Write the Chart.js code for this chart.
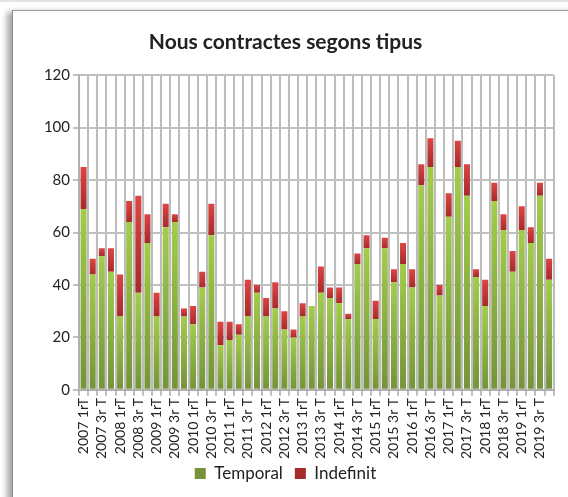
<!DOCTYPE html>
<html>
<head>
<meta charset="utf-8">
<script src="https://cdn.jsdelivr.net/npm/chart.js@4/dist/chart.umd.min.js"></script>
<style>
  body { margin: 0; background: #fff; width: 568px; height: 497px; overflow: hidden; position: relative; }
  #topline { position: absolute; left: 0; top: 0; width: 568px; height: 2px; background: #e4e4e4; }
  #frame { position: absolute; left: 12px; top: 10px; width: 600px; height: 520px;
           border-left: 1px solid #8a8a8a; border-top: 1px solid #9a9a9a;
           box-shadow: -5px 2px 6px rgba(0,0,0,0.35); background: #fff; }
  #wrap { position: absolute; left: 0; top: 0; width: 555px; height: 487px; }
</style>
</head>
<body>
<div id="topline"></div>
<div id="frame"><div id="wrap"><canvas id="c"></canvas></div></div>
<script>
// quarters 2007 1rT .. 2019 4tT
const years = ['2007','2008','2009','2010','2011','2012','2013','2014','2015','2016','2017','2018','2019'];
const quarterNames = ['1rT','2nT','3r T','4t T'];
const labels = [];
years.forEach(y => quarterNames.forEach(q => labels.push(y + ' ' + q)));

const temporal = [69,44,51,45, 28,64,37,56, 28,62,64,28, 25,39,59,17,
                  19,21,28,37, 28,31,23,20, 28,32,37,35, 33,27,48,54,
                  27,54,41,48, 39,78,85,36, 66,85,74,43, 32,72,61,45,
                  61,56,74,42];
const indefinit = [16,6,3,9, 16,8,37,11, 9,9,3,3, 7,6,12,9,
                   7,4,14,3, 7,10,7,3, 5,0,10,4, 6,2,4,5,
                   7,4,5,8, 7,8,11,4, 9,10,12,3, 10,7,6,8,
                   9,6,5,8];
const yTicks = [0,20,40,60,80,100,120];

const FONT = 'Lato, "Open Sans", sans-serif';

function grad(ctx, light, dark, solid, lowFn, highFn){
    const chart = ctx.chart;
    if (!chart.chartArea || ctx.dataIndex === undefined || ctx.type !== 'data') return solid;
    const y = chart.scales.y;
    const i = ctx.dataIndex;
    const top = y.getPixelForValue(highFn(i));
    const bot = y.getPixelForValue(lowFn(i));
    if (!isFinite(top) || !isFinite(bot) || top === bot) return solid;
    const g = chart.ctx.createLinearGradient(0, top, 0, bot);
    g.addColorStop(0, light);
    g.addColorStop(1, dark);
    return g;
}

// pull the legend a bit closer to the axis labels
const legendNudge = {
    id: 'legendNudge',
    afterLayout(chart){
        if (chart.legend){
            chart.legend.top -= 8;
            chart.legend.bottom -= 8;
        }
    }
};

new Chart(document.getElementById('c'), {
    type: 'bar',
    data: {
        labels: labels,
        datasets: [
            {
                label: 'Temporal',
                data: temporal,
                backgroundColor: ctx => grad(ctx, '#a3cc4c', '#75933a', '#8db543',
                    i => 0, i => temporal[i]),
                categoryPercentage: 1,
                barPercentage: 0.66
            },
            {
                label: 'Indefinit',
                data: indefinit,
                backgroundColor: ctx => grad(ctx, '#dc4545', '#a52b2b', '#c63636',
                    i => temporal[i], i => temporal[i] + indefinit[i]),
                categoryPercentage: 1,
                barPercentage: 0.66
            }
        ]
    },
    plugins: [legendNudge],
    options: {
        responsive: true,
        maintainAspectRatio: false,
        animation: false,
        layout: { padding: { left: 0, right: 10, top: 7, bottom: -2 } },
        plugins: {
            title: {
                display: true,
                text: 'Nous contractes segons tipus',
                color: '#222',
                font: { family: FONT, size: 21, weight: 'bold' },
                padding: { top: 12, bottom: 20 }
            },
            legend: {
                position: 'bottom',
                labels: {
                    color: '#222',
                    font: { family: FONT, size: 17 },
                    boxWidth: 11,
                    boxHeight: 11,
                    padding: 12
                }
            },
            tooltip: { enabled: false }
        },
        scales: {
            x: {
                stacked: true,
                grid: { color: '#bcbcbc', lineWidth: 2, offset: true, tickLength: 6 },
                border: { color: '#b0b0b0', width: 2 },
                ticks: {
                    autoSkip: false,
                    maxRotation: 90,
                    minRotation: 90,
                    color: '#222',
                    font: { family: FONT, size: 14 },
                    padding: 2,
                    callback: (v, i) => i % 2 === 0 ? labels[i] : ''
                }
            },
            y: {
                stacked: true,
                min: 0,
                max: 120,
                afterBuildTicks: axis => { axis.ticks = yTicks.map(v => ({ value: v })); },
                afterFit: axis => { axis.width = 66; },
                grid: { color: '#c0c0c0', lineWidth: 2, tickLength: 6 },
                border: { color: '#b0b0b0', width: 2 },
                ticks: {
                    color: '#222',
                    font: { family: FONT, size: 15 },
                    padding: 3
                }
            }
        }
    }
});
</script>
</body>
</html>
